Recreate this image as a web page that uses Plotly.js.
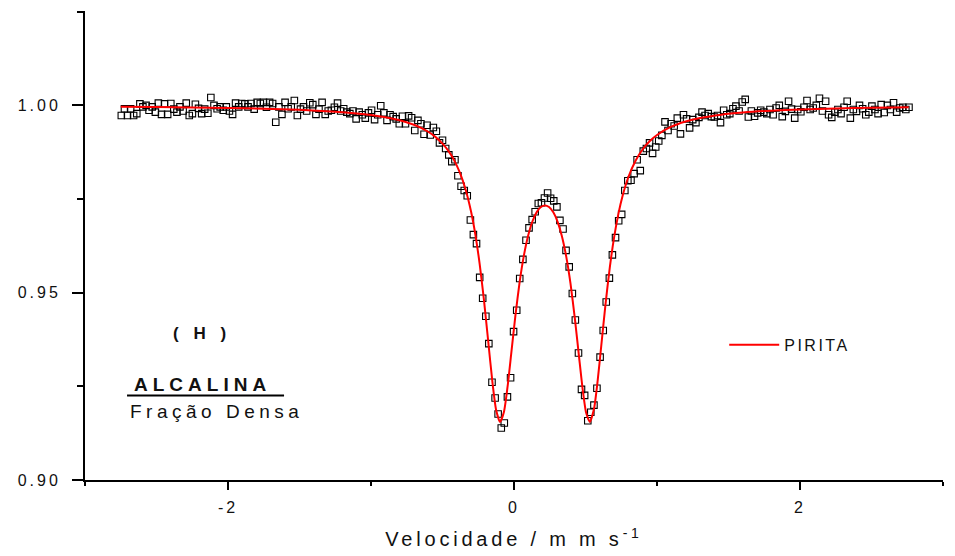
<!DOCTYPE html>
<html>
<head>
<meta charset="utf-8">
<script src="https://cdn.plot.ly/plotly-3.0.1.min.js"></script>
<style>
  html, body { margin: 0; padding: 0; background: #fff; }
  #chart { width: 955px; height: 556px; }
  .xtick text, .ytick text { letter-spacing: 3px; }
  .xtitle { letter-spacing: 3.8px; }
  .legendtext { letter-spacing: 2.5px; }
</style>
</head>
<body>
<div id="chart"></div>
<script>
// Measured channel velocities (mm/s)
const velX = [
-2.746,-2.724,-2.703,-2.681,-2.660,-2.638,-2.616,-2.595,-2.573,-2.552,
-2.530,-2.508,-2.487,-2.465,-2.444,-2.422,-2.400,-2.379,-2.357,-2.336,
-2.314,-2.292,-2.271,-2.249,-2.228,-2.206,-2.184,-2.163,-2.141,-2.120,
-2.098,-2.076,-2.055,-2.033,-2.012,-1.990,-1.968,-1.947,-1.925,-1.904,
-1.882,-1.860,-1.839,-1.817,-1.796,-1.774,-1.752,-1.731,-1.709,-1.688,
-1.666,-1.644,-1.623,-1.601,-1.580,-1.558,-1.536,-1.515,-1.493,-1.472,
-1.450,-1.428,-1.407,-1.385,-1.364,-1.342,-1.320,-1.299,-1.277,-1.256,
-1.234,-1.212,-1.191,-1.169,-1.148,-1.126,-1.104,-1.083,-1.061,-1.040,
-1.018,-0.996,-0.975,-0.953,-0.932,-0.910,-0.888,-0.867,-0.845,-0.824,
-0.802,-0.780,-0.759,-0.737,-0.716,-0.694,-0.672,-0.651,-0.629,-0.608,
-0.586,-0.564,-0.543,-0.521,-0.500,-0.478,-0.456,-0.435,-0.413,-0.392,
-0.370,-0.348,-0.327,-0.305,-0.284,-0.262,-0.240,-0.219,-0.197,-0.176,
-0.154,-0.132,-0.111,-0.089,-0.068,-0.046,-0.024,-0.003,0.019,0.040,
0.062,0.084,0.105,0.127,0.148,0.170,0.192,0.213,0.235,0.256,
0.278,0.300,0.321,0.343,0.364,0.386,0.408,0.429,0.451,0.472,
0.494,0.516,0.537,0.559,0.580,0.602,0.624,0.645,0.667,0.688,
0.710,0.732,0.753,0.775,0.796,0.818,0.840,0.861,0.883,0.904,
0.926,0.948,0.969,0.991,1.012,1.034,1.056,1.077,1.099,1.120,
1.142,1.164,1.185,1.207,1.228,1.250,1.272,1.293,1.315,1.336,
1.358,1.380,1.401,1.423,1.444,1.466,1.488,1.509,1.531,1.552,
1.574,1.596,1.617,1.639,1.660,1.682,1.704,1.725,1.747,1.768,
1.790,1.812,1.833,1.855,1.876,1.898,1.920,1.941,1.963,1.984,
2.006,2.028,2.049,2.071,2.092,2.114,2.136,2.157,2.179,2.200,
2.222,2.244,2.265,2.287,2.308,2.330,2.352,2.373,2.395,2.416,
2.438,2.460,2.481,2.503,2.524,2.546,2.568,2.589,2.611,2.632,
2.654,2.676,2.697,2.719,2.740,2.762
];
// Measured relative transmission
const transY = [
0.9973,0.9991,0.9973,0.9991,0.9973,0.9978,1.0004,0.9996,1.0000,0.9987,
0.9996,0.9982,1.0006,0.9976,1.0004,0.9976,1.0005,0.9990,0.9982,0.9996,
0.9985,1.0006,0.9973,0.9978,1.0003,0.9992,0.9978,0.9990,0.9979,1.0021,
1.0000,0.9991,0.9996,0.9987,0.9996,0.9985,0.9976,1.0006,0.9996,1.0005,
1.0004,0.9996,1.0005,0.9990,1.0008,1.0005,1.0008,0.9995,1.0008,1.0005,
0.9955,0.9996,0.9976,1.0008,0.9991,0.9996,1.0013,0.9973,0.9990,0.9996,
0.9985,1.0007,1.0002,0.9976,0.9990,1.0008,0.9976,0.9985,0.9987,0.9995,
1.0006,0.9985,0.9991,0.9982,0.9978,0.9985,0.9964,0.9982,0.9975,0.9966,
0.9980,0.9987,0.9962,0.9975,0.9999,0.9980,0.9960,0.9975,0.9970,0.9964,
0.9951,0.9971,0.9951,0.9972,0.9967,0.9933,0.9960,0.9951,0.9923,0.9947,
0.9921,0.9941,0.9931,0.9900,0.9907,0.9885,0.9868,0.9850,0.9855,0.9812,
0.9784,0.9773,0.9759,0.9694,0.9655,0.9631,0.9541,0.9485,0.9437,0.9364,
0.9261,0.9219,0.9176,0.9139,0.9152,0.9222,0.9273,0.9396,0.9453,0.9538,
0.9589,0.9640,0.9673,0.9695,0.9716,0.9738,0.9740,0.9753,0.9766,0.9752,
0.9745,0.9729,0.9693,0.9670,0.9613,0.9569,0.9498,0.9427,0.9339,0.9242,
0.9226,0.9158,0.9181,0.9200,0.9245,0.9328,0.9399,0.9475,0.9539,0.9601,
0.9647,0.9692,0.9709,0.9773,0.9799,0.9800,0.9818,0.9855,0.9826,0.9878,
0.9885,0.9900,0.9872,0.9889,0.9905,0.9920,0.9956,0.9933,0.9951,0.9945,
0.9966,0.9924,0.9975,0.9964,0.9940,0.9962,0.9954,0.9968,0.9982,0.9973,
0.9978,0.9970,0.9969,0.9973,0.9954,0.9987,0.9975,0.9978,0.9991,0.9998,
0.9985,1.0009,1.0016,0.9969,0.9985,0.9971,0.9980,0.9987,0.9982,0.9978,
0.9989,0.9975,0.9993,1.0000,0.9970,0.9984,1.0011,0.9990,0.9966,0.9989,
0.9983,0.9995,1.0013,0.9989,0.9993,1.0000,1.0019,0.9985,1.0011,0.9975,
0.9968,0.9982,0.9989,0.9978,0.9995,1.0011,0.9966,0.9989,0.9984,1.0000,
0.9991,0.9975,0.9982,0.9998,0.9989,0.9978,1.0002,0.9981,1.0000,0.9989,
1.0007,0.9982,0.9993,0.9995,0.9989,0.9995
];
// Fitted curve (PIRITA doublet)
const fitX = [-2.75,-2.5,-2.25,-2.0,-1.75,-1.5,-1.25,-1.1,-1.0,-0.9,
-0.8,-0.7,-0.65,-0.6,-0.55,-0.5,-0.46,-0.42,-0.38,-0.34,
-0.30,-0.27,-0.24,-0.21,-0.18,-0.15,-0.125,-0.098,-0.07,-0.045,
-0.02,0.01,0.04,0.07,0.10,0.13,0.16,0.19,0.2165,0.245,
0.275,0.305,0.335,0.365,0.395,0.425,0.455,0.48,0.505,0.531,
0.56,0.585,0.61,0.64,0.67,0.70,0.73,0.76,0.80,0.85,
0.90,0.95,1.0,1.1,1.2,1.3,1.45,1.6,1.8,2.0,
2.25,2.5,2.76];
const fitY = [0.99963,0.99955,0.99946,0.99932,0.99912,0.99882,0.99833,0.99786,0.99743,0.99685,
0.99603,0.99483,0.99401,0.99296,0.99160,0.98981,0.98792,0.98546,0.98218,0.97773,
0.97159,0.96545,0.95764,0.94801,0.9369,0.92581,0.91868,0.91549,0.91825,0.92491,
0.93352,0.94397,0.9530,0.96011,0.9654,0.96914,0.97158,0.97293,0.97331,0.97287,
0.97146,0.96892,0.9651,0.9597,0.95246,0.94331,0.93281,0.92428,0.91786,0.91549,
0.91912,0.9265,0.93575,0.94695,0.95676,0.96475,0.97104,0.97595,0.98088,0.98524,
0.98829,0.99048,0.99211,0.99431,0.99569,0.99661,0.99752,0.99809,0.99859,0.99892,
0.99918,0.99936,0.99949];

const xTickVals = [-2, 0, 2];
const xTickText = ["-2", "0", "2"];
const xMinorVals = [-3, -1, 1, 3];
const yTickVals = [0.90, 0.95, 1.00];
const yTickText = ["0.90", "0.95", "1.00"];
const yMinorVals = [0.925, 0.975, 1.025];
const seriesName = "PIRITA";
const xTitle = "Velocidade / m m s<sup>-1</sup>";

const FONT = "Liberation Sans, Arial, Helvetica, sans-serif";

const traces = [
  {
    x: velX, y: transY, type: "scatter", mode: "markers",
    marker: { symbol: "square-open", size: 6.5, color: "#000", line: { width: 1.1, color: "#000" } },
    showlegend: false, hoverinfo: "skip"
  },
  {
    x: fitX, y: fitY, type: "scatter", mode: "lines", name: seriesName,
    line: { color: "#ff0000", width: 2, shape: "spline", smoothing: 0.6 }
  }
];

const layout = {
  width: 955, height: 556,
  margin: { l: 85, r: 12, t: 11, b: 76 },
  paper_bgcolor: "#fff", plot_bgcolor: "#fff",
  font: { family: FONT, color: "#111", size: 16 },
  showlegend: true,
  legend: {
    x: 0.745, y: 0.288, xanchor: "left", yanchor: "middle",
    bgcolor: "rgba(0,0,0,0)", borderwidth: 0, itemwidth: 50,
    font: { family: FONT, size: 16, color: "#111" }
  },
  xaxis: {
    range: [-3, 3], showgrid: false, zeroline: false,
    showline: true, linecolor: "#000", linewidth: 1.5,
    ticks: "outside", ticklen: 8, tickwidth: 1.5, tickcolor: "#000",
    tickmode: "array", tickvals: xTickVals, ticktext: xTickText,
    tickfont: { family: FONT, size: 16, color: "#111" },
    ticklabelstandoff: 4,
    minor: { tickmode: "array", tickvals: xMinorVals, ticks: "outside", ticklen: 4, tickwidth: 1.5, tickcolor: "#000" },
    title: { text: xTitle, font: { family: FONT, size: 20, color: "#111" }, standoff: 17 }
  },
  yaxis: {
    range: [0.9, 1.0252], showgrid: false, zeroline: false,
    showline: true, linecolor: "#000", linewidth: 2,
    ticks: "outside", ticklen: 11, tickwidth: 2, tickcolor: "#000",
    tickmode: "array", tickvals: yTickVals, ticktext: yTickText,
    tickfont: { family: FONT, size: 16, color: "#111" },
    ticklabelstandoff: 8,
    minor: { tickmode: "array", tickvals: yMinorVals, ticks: "outside", ticklen: 6, tickwidth: 2, tickcolor: "#000" }
  },
  annotations: [
    { xref: "paper", yref: "paper", x: 0.1364, y: 0.3134, xanchor: "center", yanchor: "middle", showarrow: false,
      text: '<span style="letter-spacing:5px">( H )</span>', font: { family: FONT, size: 17, color: "#111", weight: "bold" } },
    { xref: "paper", yref: "paper", x: 0.1375, y: 0.2026, xanchor: "center", yanchor: "middle", showarrow: false,
      text: '<span style="letter-spacing:5px">ALCALINA</span>', font: { family: FONT, size: 19, color: "#111", weight: "bold" } },
    { xref: "paper", yref: "paper", x: 0.1527, y: 0.145, xanchor: "center", yanchor: "middle", showarrow: false,
      text: '<span style="letter-spacing:4.5px">Fração Densa</span>', font: { family: FONT, size: 19, color: "#111" } }
  ],
  shapes: [
    { type: "line", xref: "paper", yref: "paper", x0: 0.049, x1: 0.232, y0: 0.1802, y1: 0.1802,
      line: { color: "#000", width: 2 } }
  ]
};

Plotly.newPlot("chart", traces, layout, { displayModeBar: false, staticPlot: true });
</script>
</body>
</html>
